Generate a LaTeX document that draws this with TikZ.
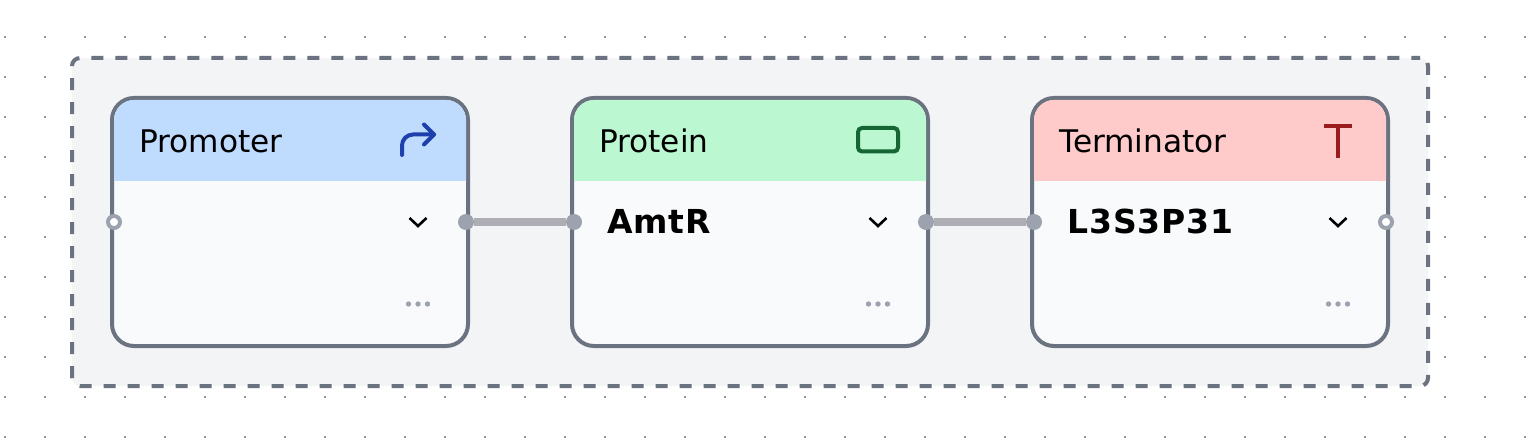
\documentclass[tikz,border=0pt]{standalone}
\usepackage{fontspec}
\setmainfont{DejaVu Sans}
\newfontfamily\valuefont[LetterSpace=2.8]{DejaVu Sans}
\usepackage{xcolor}
\usetikzlibrary{positioning}

\definecolor{groupline}{HTML}{6B7280}
\definecolor{groupfill}{HTML}{F3F4F6}
\definecolor{bodyfill}{HTML}{F9FAFB}
\definecolor{handlegray}{HTML}{9CA3AF}
\definecolor{edgegray}{HTML}{AEADB3}
\definecolor{dotgray}{HTML}{93939A}
\definecolor{promoterfill}{HTML}{BFDBFE}
\definecolor{proteinfill}{HTML}{BBF7D0}
\definecolor{terminatorfill}{HTML}{FECACA}
\definecolor{promoterink}{HTML}{1E40AF}
\definecolor{proteinink}{HTML}{166534}
\definecolor{terminatorink}{HTML}{991B1B}

% coloured head of a card, sits inside its outline
\newcommand{\cardhead}[2]{
    \begin{scope}
        \clip ([xshift=2pt,yshift=41pt]#1.west) rectangle (#1.north east);
        \fill[#2, rounded corners=20pt] ([xshift=2pt,yshift=-2pt]#1.north west) rectangle ([xshift=-2pt,yshift=2pt]#1.south east);
    \end{scope}
}
% chevron and three dots of a card
\newcommand{\cardmarks}[1]{
    \draw[chevron] ([xshift=297.5pt,yshift=4pt]#1.west) -- ([xshift=306pt,yshift=-4pt]#1.west) -- ([xshift=314.5pt,yshift=4pt]#1.west);
    \fill[handlegray] ([xshift=296.5pt,yshift=-82pt]#1.west) circle (2.7pt);
    \fill[handlegray] ([xshift=306pt,yshift=-82pt]#1.west) circle (2.7pt);
    \fill[handlegray] ([xshift=315.5pt,yshift=-82pt]#1.west) circle (2.7pt);
}

\begin{document}
\begin{tikzpicture}[
        x=1pt, y=-1pt,
        group/.style={rectangle, rounded corners=8pt, draw=groupline, line width=4pt, fill=groupfill, dash pattern=on 12pt off 12pt, dash phase=3.4pt, minimum width=1356pt, minimum height=328pt, inner sep=0pt, outer sep=0pt},
        card/.style={rectangle, rounded corners=22pt, draw=groupline, line width=4pt, fill=bodyfill, minimum width=356pt, minimum height=248pt, inner sep=0pt, outer sep=0pt},
        cardtitle/.style={anchor=base west, inner sep=0pt, font=\fontsize{31.2}{36}\selectfont},
        cardvalue/.style={anchor=base west, inner sep=0pt, font=\fontsize{33}{38}\selectfont\valuefont\bfseries},
        openhandle/.style={circle, draw=handlegray, line width=4pt, fill=white, minimum size=12pt, inner sep=0pt, outer sep=0pt},
        fullhandle/.style={circle, fill=handlegray, minimum size=16pt, inner sep=0pt, outer sep=0pt},
        link/.style={draw=edgegray, line width=8pt},
        chevron/.style={draw=black, line width=2.6pt}
    ]
    \useasboundingbox (0,0) rectangle (1536,446);

    % dotted canvas
    \foreach \gx in {0,...,38} {
        \foreach \gy in {0,...,10} {
            \fill[dotgray] (4+40*\gx,36+40*\gy) rectangle ++(2,2);
        }
    }

    % group and the three cards
    \node[group] (grouparea) at (750,222) {};
    \node[card] (promoter) at (290,222) {};
    \node[card, right=104pt of promoter] (protein) {};
    \node[card, right=104pt of protein] (terminator) {};

    % heads, drawn over the card fill
    \cardhead{promoter}{promoterfill}
    \cardhead{protein}{proteinfill}
    \cardhead{terminator}{terminatorfill}

    % titles and values
    \node[cardtitle] (promotertitle) at ([xshift=27pt,yshift=-55pt]promoter.north west) {Promoter};
    \node[cardtitle] (proteintitle) at ([xshift=27pt,yshift=-55pt]protein.north west) {Protein};
    \node[cardtitle] (terminatortitle) at ([xshift=27pt,yshift=-55pt]terminator.north west) {Terminator};
    \node[cardvalue] (proteinvalue) at ([xshift=35pt,yshift=-12pt]protein.west) {AmtR};
    \node[cardvalue] (terminatorvalue) at ([xshift=35pt,yshift=-12pt]terminator.west) {L3S3P31};

    % head icons
    \draw[promoterink, line width=4pt, line cap=round, line join=round, rounded corners=11pt] (402,155) -- (402,134.5) -- (434,134.5);
    \draw[promoterink, line width=4pt, line cap=round, line join=round] (424,124.5) -- (434,134.5) -- (424,144.5);
    \draw[proteinink, line width=4pt, rounded corners=4pt] (858,128) rectangle (898,151.5);
    \draw[terminatorink, line width=4pt] (1324,126) -- (1352,126);
    \draw[terminatorink, line width=4pt] (1338,126) -- (1338,158);

    \cardmarks{promoter}
    \cardmarks{protein}
    \cardmarks{terminator}

    % handles
    \node[openhandle] (promoterin) at ([xshift=2pt]promoter.west) {};
    \node[fullhandle] (promoterout) at ([xshift=-2pt]promoter.east) {};
    \node[fullhandle] (proteinin) at ([xshift=2pt]protein.west) {};
    \node[fullhandle] (proteinout) at ([xshift=-2pt]protein.east) {};
    \node[fullhandle] (terminatorin) at ([xshift=2pt]terminator.west) {};
    \node[openhandle] (terminatorout) at ([xshift=-2pt]terminator.east) {};

    % connectors
    \draw[link] (promoterout) -- (proteinin);
    \draw[link] (proteinout) -- (terminatorin);

    \end{tikzpicture}
\end{document}
